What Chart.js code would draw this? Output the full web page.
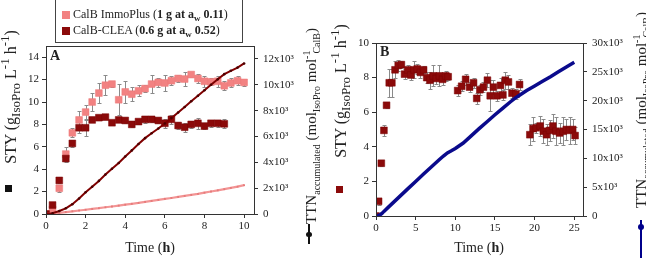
<!DOCTYPE html>
<html>
<head>
<meta charset="utf-8">
<script src="https://cdn.jsdelivr.net/npm/chart.js@4.4.0/dist/chart.umd.min.js"></script>
<style>
  body { margin: 0; background: #fff; }
  #wrap { position: relative; width: 646px; height: 258px; overflow: hidden; background: #fff; font-family: "Liberation Serif", serif; color: #222; }
  canvas { position: absolute; top: 0; }
  .rot { position: absolute; white-space: nowrap; transform: translate(-50%, -50%) rotate(-90deg); font-size: 15px; line-height: 15px; }
  .rot sub, .rot sup { font-size: 10px; line-height: 0; }
  .rot.sty { font-size: 16px; }
  .rot.sty sub, .rot.sty sup { font-size: 13px; }
  .xt { position: absolute; white-space: nowrap; transform: translate(-50%, -50%); font-size: 14px; }
  #legend { position: absolute; left: 55px; top: 0; width: 186px; height: 42px; border: 1px solid #444; border-top: none; background: #fff; font-size: 12px; }
  #legend .row { position: absolute; left: 17px; white-space: nowrap; }
  #legend .sw { position: absolute; left: 6px; width: 8px; height: 8px; }
  #legend sub { font-size: 9px; line-height: 0; }
  .panel { position: absolute; font-weight: bold; font-size: 14px; }
</style>
</head>
<body>
<div id="wrap">
  <canvas id="chartA" width="330" height="258" style="left:0"></canvas>
  <canvas id="chartB" width="316" height="258" style="left:330px"></canvas>

  <div id="legend">
    <span class="sw" style="top:11px;background:#f28282"></span>
    <div class="row" style="top:7px">CalB ImmoPlus (<b>1 g at a<sub>w</sub> 0.11</b>)</div>
    <span class="sw" style="top:27px;background:#8b0a0a"></span>
    <div class="row" style="top:23px">CalB-CLEA (<b>0.6 g at a<sub>w</sub> 0.52</b>)</div>
  </div>

  <div class="panel" style="left:50px;top:48px">A</div>
  <div class="panel" style="left:380px;top:44px">B</div>

  <div class="rot sty" style="left:10px;top:97px">STY (g<sub>IsoPro</sub> L<sup>-1</sup> h<sup>-1</sup>)</div>
  <div class="rot" style="left:311px;top:126px">TTN<sub>accumulated</sub> (mol<sub>IsoPro</sub> mol<sup>-1</sup><sub style="margin-left:-3px">CalB</sub>)</div>
  <div class="rot sty" style="left:340px;top:91px">STY (g<sub>IsoPro</sub> L<sup>-1</sup> h<sup>-1</sup>)</div>
  <div class="rot" style="left:641px;top:110px">TTN<sub>accumulated</sub> (mol<sub>IsoPro</sub> mol<sup>-1</sup><sub style="margin-left:-3px">CalB</sub>)</div>

  <div style="position:absolute;left:5px;top:185px;width:7px;height:7px;background:#111"></div>
  <div style="position:absolute;left:336px;top:186px;width:7px;height:7px;background:#8b0a0a"></div>
  <div style="position:absolute;left:308px;top:224px;width:1.5px;height:20px;background:#111"></div>
  <div style="position:absolute;left:306px;top:232px;width:6px;height:5px;border-radius:3px;background:#111"></div>
  <div style="position:absolute;left:640px;top:220px;width:2px;height:38px;background:#00008b"></div>
  <div style="position:absolute;left:638px;top:224px;width:6px;height:6px;border-radius:3px;background:#00008b"></div>

  <div class="xt" style="left:150px;top:248px">Time (<b>h</b>)</div>
  <div class="xt" style="left:479px;top:248px">Time (<b>h</b>)</div>
</div>

<script>
// ---- Panel A : time points every 20 min
const timeA = [0, 0.33, 0.67, 1, 1.33, 1.67, 2, 2.33, 2.67, 3, 3.33, 3.67, 4, 4.33, 4.67, 5,
  5.33, 5.67, 6, 6.33, 6.67, 7, 7.33, 7.67, 8, 8.33, 8.67, 9, 9.33, 9.67, 10];

// STY CalB ImmoPlus
const styImmo = [0, 0.4, 2.3, 5.35, 7.25, 8.4, 9.1, 10.0, 10.8, 11.5, 11.6, 10.2, 10.9, 10.7, 11.0, 11.2,
  11.6, 11.75, 11.7, 11.9, 12.1, 12.05, 12.45, 12.1, 11.85, 11.8, 11.85, 11.45, 11.7, 11.9, 11.75];
const errImmo = [0, 0.1, 0.3, 0.6, 0.4, 0.8, 0.6, 0.8, 0.9, 0.9, 0.3, 1.4, 1.0, 0.6, 0.5, 0.3,
  0.8, 0.4, 0.7, 0.4, 0.3, 0.6, 0.2, 0.4, 0.5, 0.3, 0.5, 0.4, 0.4, 0.4, 0.3];

// STY CalB-CLEA (stops at 9 h)
const styClea = [0, 0.8, 3.0, 4.95, 6.3, 7.7, 7.7, 8.4, 8.6, 8.65, 8.15, 8.4, 8.35, 8.0, 8.25, 8.45,
  8.45, 8.35, 8.1, 8.45, 7.9, 7.75, 8.0, 8.1, 7.85, 8.1, 8.1, 8.05];
const errClea = [0, 0.3, 0.2, 0.3, 0.3, 0.5, 0.7, 0.2, 0.2, 0.2, 0.2, 0.2, 0.2, 0.2, 0.2, 0.3,
  0.2, 0.2, 0.4, 0.4, 0.3, 0.4, 0.3, 0.5, 0.3, 0.3, 0.3, 0.4];

// TTN accumulated
const ttnImmo = [0, 30, 90, 150, 210, 270, 330, 390, 450, 520, 580, 650, 720, 790, 860, 940,
  1010, 1090, 1170, 1240, 1320, 1400, 1480, 1560, 1650, 1740, 1830, 1920, 2020, 2120, 2230];
const ttnClea = [0, 60, 230, 440, 760, 1200, 1680, 2110, 2560, 3050, 3500, 3950, 4450, 4920, 5420, 5870,
  6250, 6620, 7000, 7420, 7850, 8280, 8720, 9150, 9580, 10000, 10420, 10820, 11080, 11330, 11650];
const ttnTicksA = [0, 2000, 4000, 6000, 8000, 10000, 12000];

// ---- Panel B
const timeB = [0, 0.33, 0.67, 1, 1.33, 1.67, 2, 2.4, 2.8, 3.2, 3.6, 4, 4.4, 4.8, 5.2, 5.6, 6, 6.4, 6.8, 7.2,
  7.6, 8, 8.4, 8.8, 9.1,
  10.3, 10.8, 11.3, 11.8, 12.3, 12.7, 13.1, 13.55, 14.05, 14.4, 14.8, 15.25, 15.7, 16, 16.3, 16.7,
  17.15, 17.65, 18.1,
  19.4, 19.8, 20.2, 20.7, 21.1, 21.5, 21.9, 22.3, 22.7, 23.15, 23.6, 24, 24.4, 24.8, 25.1];
const styB = [0, 0.85, 3.05, 4.95, 6.4, 7.7, 7.7, 8.45, 8.7, 8.75, 8.2, 8.45, 8.15, 8.45, 8.5, 8.3, 8.45, 8.0, 7.85, 8.1,
  7.95, 8.1, 7.9, 8.1, 8.05,
  7.25, 7.5, 7.9, 7.45, 7.7, 6.8, 7.3, 7.45, 7.85, 6.95, 7.45, 6.95, 7.55, 7.0, 7.85, 7.75,
  7.1, 7.05, 7.6,
  4.7, 5.05, 5.1, 5.2, 4.9, 4.7, 4.95, 5.2, 4.9, 4.8, 4.9, 5.0, 4.95, 5.0, 4.65];
const errB = [0, 0.2, 0.15, 0.3, 0.15, 0.8, 0.8, 0.5, 0.3, 0.2, 0.3, 0.3, 0.3, 0.5, 0.3, 0.3, 0.2, 0.3, 0.5, 0.6,
  0.3, 0.6, 0.3, 0.3, 0.2,
  0.3, 0.3, 0.3, 0.3, 0.3, 0.3, 0.3, 0.3, 0.4, 0.9, 0.4, 0.3, 0.4, 0.3, 0.5, 0.4,
  0.3, 0.3, 0.3,
  0.6, 0.7, 0.3, 0.6, 0.7, 0.6, 0.6, 0.7, 0.8, 0.6, 0.8, 0.6, 0.8, 0.6, 0.5];

const timeTtnB = [0, 0.25, 0.5, 0.75, 1, 1.5, 2, 3, 4, 5, 6, 7, 8, 8.5, 9, 9.5, 10, 11, 12, 13, 14, 15, 16, 17,
  17.5, 18, 19, 20, 21, 22, 23, 24, 25];
const ttnB = [0, 50, 180, 450, 800, 1450, 2100, 3400, 4700, 6000, 7300, 8550, 9800, 10400, 10950, 11300, 11700,
  12650, 13900, 15150, 16350, 17550, 18700, 19850, 20400, 20850, 21750, 22550, 23350, 24150, 25000, 25850, 26650];
const ttnTicksB = [0, 5000, 10000, 15000, 20000, 25000, 30000];

function pts(xs, ys) {
  return ys.map((y, i) => ({ x: xs[i], y: y }));
}

const FONT = { family: "'Liberation Serif', serif", size: 11 };

// error bars under the squares
const errorBars = {
  id: "errorBars",
  beforeDatasetsDraw(chart) {
    const ctx = chart.ctx;
    chart.data.datasets.forEach((ds, i) => {
      if (!ds.errors) return;
      const meta = chart.getDatasetMeta(i);
      const ys = chart.scales[ds.yAxisID];
      ctx.save();
      ctx.strokeStyle = "#8a8a8a";
      ctx.lineWidth = 1;
      meta.data.forEach((p, j) => {
        const e = ds.errors[j];
        if (!e) return;
        const v = ds.data[j].y;
        const t = Math.round(ys.getPixelForValue(v + e)) + 0.5;
        const b = Math.round(ys.getPixelForValue(v - e)) + 0.5;
        const x = Math.round(p.x) + 0.5;
        ctx.beginPath();
        ctx.moveTo(x, t); ctx.lineTo(x, b);
        ctx.moveTo(x - 2, t); ctx.lineTo(x + 2, t);
        ctx.moveTo(x - 2, b); ctx.lineTo(x + 2, b);
        ctx.stroke();
      });
      ctx.restore();
    });
  },
};

// box around the plot area
const frame = {
  id: "frame",
  afterDraw(chart) {
    const a = chart.chartArea;
    const ctx = chart.ctx;
    ctx.save();
    ctx.strokeStyle = "#333";
    ctx.lineWidth = 1;
    ctx.strokeRect(Math.round(a.left) + 0.5, Math.round(a.top) + 0.5,
      Math.round(a.right - a.left), Math.round(a.bottom - a.top));
    ctx.restore();
  },
};

function axis(opts) {
  const cfg = {
    type: "linear",
    position: opts.position,
    min: opts.min,
    max: opts.max,
    grid: { drawOnChartArea: false, tickLength: 4, color: "#333" },
    border: { color: "#333" },
    ticks: {
      stepSize: opts.step,
      includeBounds: false,
      font: FONT,
      color: "#222",
      padding: opts.padding,
      maxRotation: 0,
      callback: opts.cb,
    },
    afterFit: opts.fit,
  };
  if (opts.values) {
    cfg.afterBuildTicks = (s) => { s.ticks = opts.values.map((v) => ({ value: v })); };
  }
  return cfg;
}

const tenPow = (v) => (v === 0 ? "0" : v / 1000 + "x10\u00B3");

new Chart(document.getElementById("chartA"), {
  type: "scatter",
  data: {
    datasets: [
      { data: pts(timeA, ttnClea), yAxisID: "y2", showLine: true, borderColor: "#800000", borderWidth: 2,
        pointRadius: 1.3, pointBackgroundColor: "#4a0000", pointBorderWidth: 0 },
      { data: pts(timeA, ttnImmo), yAxisID: "y2", showLine: true, borderColor: "#f39595", borderWidth: 2.2,
        pointRadius: 1.3, pointStyle: "rect", pointBackgroundColor: "#e57a7a", pointBorderWidth: 0 },
      { data: pts(timeA, styClea), errors: errClea, yAxisID: "y", pointStyle: "rect", pointRadius: 4.8,
        backgroundColor: "#8b0a0a", borderColor: "#7a0505", borderWidth: 0.5 },
      { data: pts(timeA, styImmo), errors: errImmo, yAxisID: "y", pointStyle: "rect", pointRadius: 4.8,
        backgroundColor: "#f28282", borderColor: "#ec7676", borderWidth: 0.5 },
    ],
  },
  options: {
    responsive: false,
    animation: false,
    devicePixelRatio: 1,
    layout: { padding: { top: 46, left: 0, right: 0, bottom: 0 } },
    plugins: { legend: { display: false }, tooltip: { enabled: false } },
    scales: {
      x: axis({ position: "bottom", min: 0, max: 10.5, step: 2, padding: 2, fit: (s) => { s.height = 44; } }),
      y: axis({ position: "left", min: 0, max: 15, step: 2, padding: 3, fit: (s) => { s.width = 46; } }),
      y2: axis({ position: "right", min: 0, max: 13000, values: ttnTicksA, padding: 5, cb: tenPow, fit: (s) => { s.width = 76; } }),
    },
  },
  plugins: [errorBars, frame],
});

new Chart(document.getElementById("chartB"), {
  type: "scatter",
  data: {
    datasets: [
      { data: pts(timeTtnB, ttnB), yAxisID: "y2", showLine: true, borderColor: "#0a0a8c", borderWidth: 3.5,
        pointRadius: 0 },
      { data: pts(timeB, styB), errors: errB, yAxisID: "y", pointStyle: "rect", pointRadius: 4.8,
        backgroundColor: "#8b0a0a", borderColor: "#7a0505", borderWidth: 0.5 },
    ],
  },
  options: {
    responsive: false,
    animation: false,
    devicePixelRatio: 1,
    layout: { padding: { top: 43, left: 0, right: 0, bottom: 0 } },
    plugins: { legend: { display: false }, tooltip: { enabled: false } },
    scales: {
      x: axis({ position: "bottom", min: 0, max: 26.1, step: 5, padding: 2, fit: (s) => { s.height = 42; } }),
      y: axis({ position: "left", min: 0, max: 10, step: 2, padding: 3, fit: (s) => { s.width = 46; } }),
      y2: axis({ position: "right", min: 0, max: 30000, values: ttnTicksB, padding: 5, cb: tenPow, fit: (s) => { s.width = 63; } }),
    },
  },
  plugins: [errorBars, frame],
});
</script>
</body>
</html>
